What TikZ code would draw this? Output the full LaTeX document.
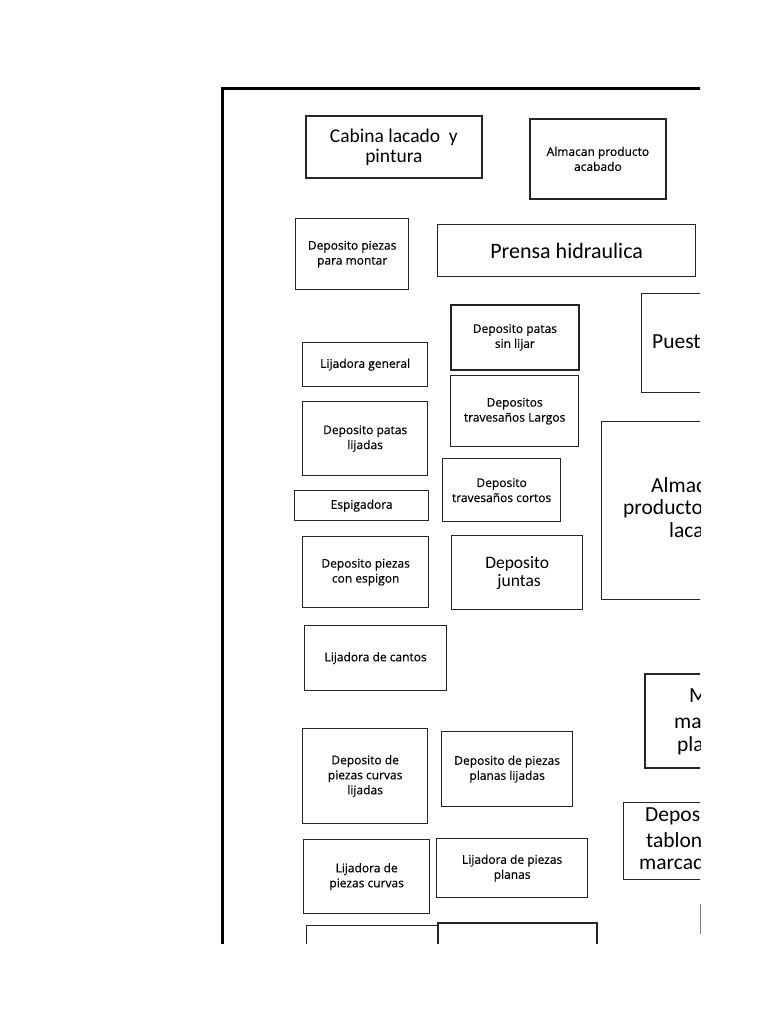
\documentclass[tikz,border=0pt]{standalone}
\usepackage{fontspec}
\setmainfont{Carlito}
\newfontfamily\smallf[FakeBold=0.4]{Open Sans}
\begin{document}
\begin{tikzpicture}[x=1pt,y=-1pt,
  room/.style={draw=black!85, line width=1.3pt, inner sep=0pt, align=center, anchor=north west,
    font=\smallf\fontsize{12}{15}\selectfont},
  bigtext/.style={font=\fontsize{19.5}{20}\selectfont},
  midtext/.style={font=\fontsize{17.5}{18}\selectfont},
  part/.style={anchor=west, inner sep=0pt, font=\fontsize{21.5}{23}\selectfont},
  wall/.style={line width=3pt, black}]
\useasboundingbox (0,0) rectangle (768,1024);
\fill[white] (0,0) rectangle (768,1024);
\begin{scope}
\clip (0,0) rectangle (700,943);
% walls
\coordinate (w0) at (222,89);
\coordinate (w1) at (702,89);
\coordinate (w2) at (222,946);
\draw[wall] (w2) -- (w0) -- (w1);
% rooms
\node[room, bigtext, line width=1.8pt, minimum width=176pt, minimum height=62pt] (cabina) at (305,115) {Cabina lacado\ \ y\\pintura};
\node[room, line width=1.8pt, minimum width=136pt, minimum height=80pt] (almacan) at (529,118) {Almacan producto\\acabado};
\node[room, minimum width=113pt, minimum height=71pt] (depmontar) at (295,218) {Deposito piezas\\para montar};
\node[room, font=\fontsize{22}{24}\selectfont, minimum width=258pt, minimum height=52pt] (prensa) at (437,224) {Prensa hidraulica};
\node[room, minimum width=130pt, minimum height=99pt] (puesto) at (641,293) {};
\node[part] (puestot) at (652,342) {Puesto};
\node[room, line width=1.8pt, minimum width=128pt, minimum height=65pt] (patassin) at (450,304) {Deposito patas\\sin lijar};
\node[room, minimum width=125pt, minimum height=44pt] (lijgen) at (302,342) {Lijadora general};
\node[room, minimum width=128pt, minimum height=71pt] (travlargos) at (450,375) {Depositos\\travesaños Largos};
\node[room, minimum width=125pt, minimum height=74pt] (patasl) at (302,401) {Deposito patas\\lijadas};
\node[room, minimum width=200pt, minimum height=178pt] (almlacado) at (601,421) {};
\node[part] (alm1) at (651,485) {Almacen};
\node[part] (alm2) at (623,509) {producto};
\node[part] (alm3) at (669,530) {lacado};
\node[room, minimum width=118pt, minimum height=63pt] (travcortos) at (442,458) {Deposito\\travesaños cortos};
\node[room, minimum width=134pt, minimum height=30pt] (espig) at (294,490) {Espigadora};
\node[room, minimum width=126pt, minimum height=71pt] (espigon) at (302,536) {Deposito piezas\\con espigon};
\node[room, midtext, minimum width=131pt, minimum height=74pt] (juntas) at (451,535) {Deposito\\\ juntas};
\node[room, minimum width=142pt, minimum height=65pt] (cantos) at (304,625) {Lijadora de cantos};
\node[room, line width=1.8pt, minimum width=120pt, minimum height=94pt] (mesa) at (644,673) {};
\node[part] (m1) at (689,696) {Mesa};
\node[part] (m2) at (674,721) {marcado};
\node[part] (m3) at (677,746) {planos};
\node[room, minimum width=125pt, minimum height=95pt] (curvasl) at (302,728) {Deposito de\\piezas curvas\\lijadas};
\node[room, minimum width=131pt, minimum height=75pt] (planasl) at (441,731) {Deposito de piezas\\planas lijadas};
\node[room, minimum width=140pt, minimum height=77pt] (tablones) at (623,802) {};
\node[part] (t1) at (645,816) {Deposito};
\node[part] (t2) at (646,840) {tablones};
\node[part] (t3) at (639,862) {marcados};
\node[room, minimum width=126pt, minimum height=74pt] (lijcurvas) at (303,839) {Lijadora de\\piezas curvas};
\node[room, minimum width=151pt, minimum height=59pt] (lijplanas) at (436,838) {Lijadora de piezas\\planas};
\node[room, minimum width=131pt, minimum height=60pt] (bot1) at (306,925) {};
\node[room, line width=2.2pt, minimum width=159pt, minimum height=60pt] (bot2) at (437,922) {};
\end{scope}
\coordinate (g1) at (700,904);
\coordinate (g2) at (700,934);
\draw[black!50, line width=0.8pt] (g1) -- (g2);
\end{tikzpicture}
\end{document}
